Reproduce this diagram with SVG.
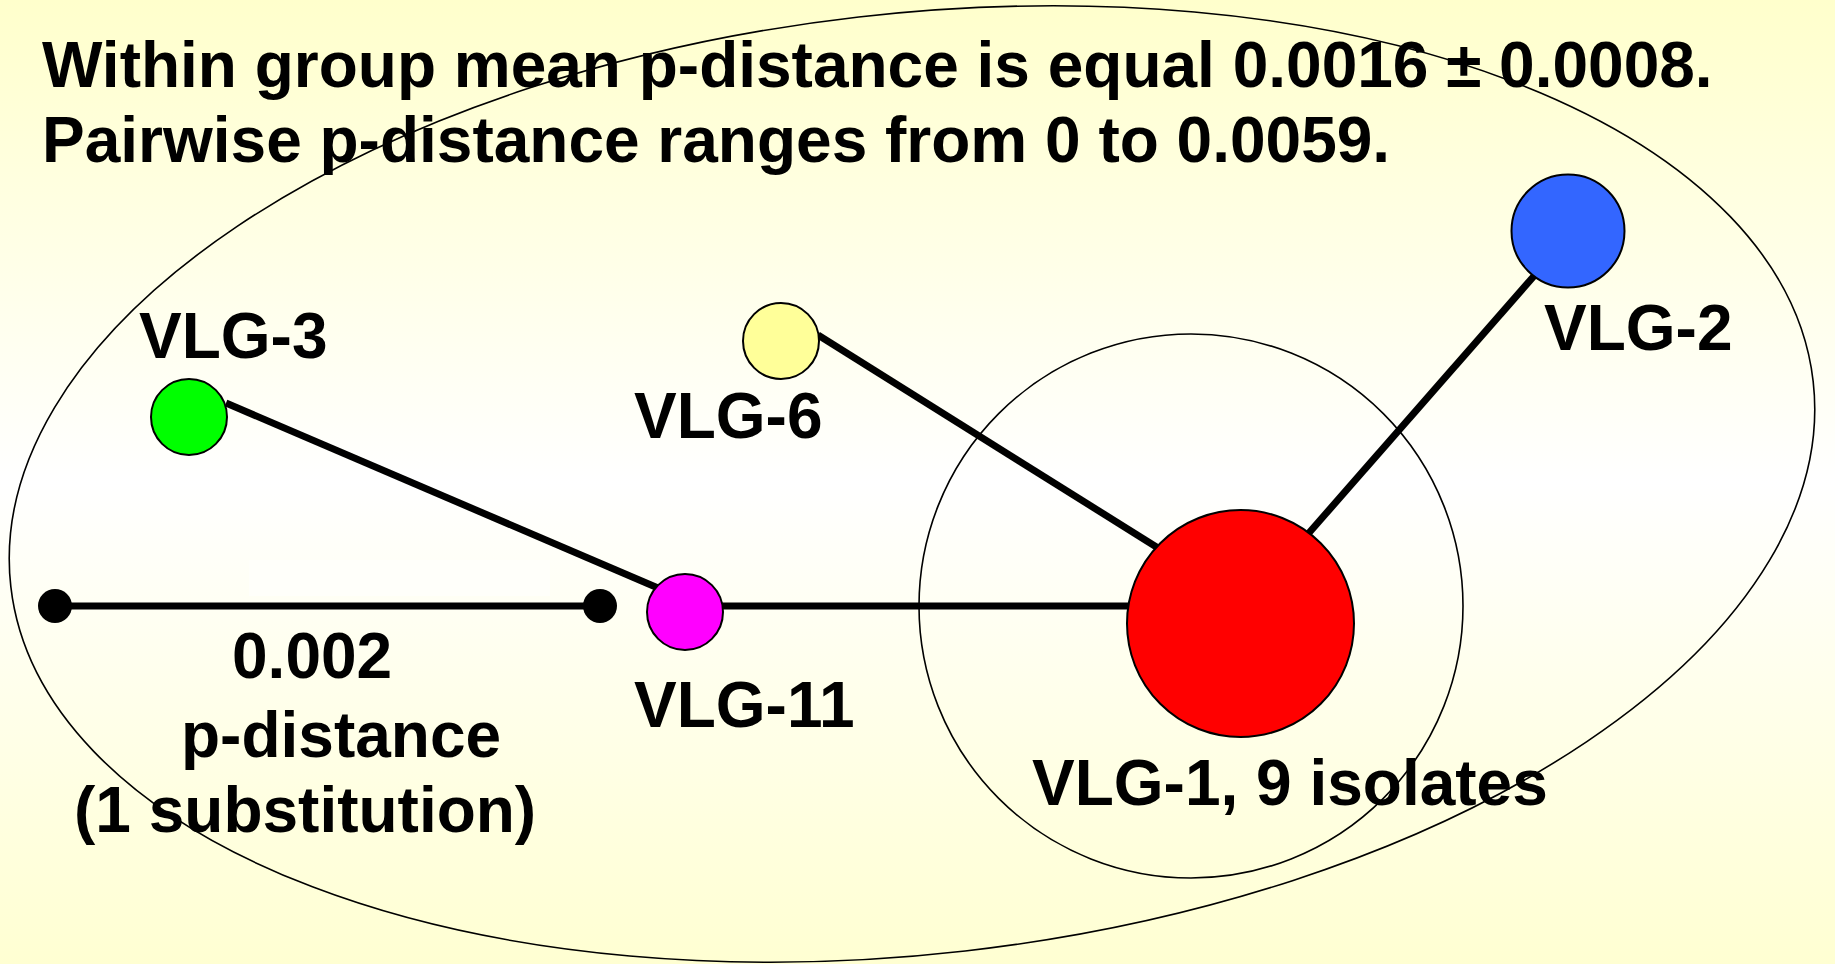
<svg xmlns="http://www.w3.org/2000/svg" width="1835" height="964" viewBox="0 0 1835 964">
<defs>
<linearGradient id="bg" x1="0" y1="0" x2="0" y2="1">
<stop offset="0" stop-color="#ffffcc"/>
<stop offset="0.5" stop-color="#ffffff"/>
<stop offset="1" stop-color="#ffffd2"/>
</linearGradient>
<style>
.t{font-family:"Liberation Sans",Arial,sans-serif;font-weight:bold;font-size:64px;fill:#000}
.ring{fill:none;stroke:#000;stroke-width:1.6}
.node{stroke:#000;stroke-width:2}
.edge{stroke:#000;stroke-width:7;fill:none}
</style>
</defs>
<rect x="0" y="0" width="1835" height="964" fill="url(#bg)"/>
<rect x="249" y="560" width="301" height="36" fill="#fffffa"/>
<g id="title">
<text class="t" x="42" y="87">Within group mean p-distance is equal 0.0016 ± 0.0008.</text>
<text class="t" x="42" y="162">Pairwise p-distance ranges from 0 to 0.0059.</text>
</g>
<g id="group-boundary">
<ellipse class="ring" cx="912" cy="484" rx="907" ry="470" transform="rotate(-6.5 912 484)"/>
</g>
<g id="vlg1-ring">
<circle class="ring" cx="1191" cy="606" r="272"/>
</g>
<g id="connectors">
<line class="edge" x1="226" y1="403" x2="658" y2="588"/>
<line class="edge" x1="818" y1="335" x2="1158" y2="548"/>
<line class="edge" x1="1534" y1="276" x2="1308" y2="534"/>
<line class="edge" x1="720" y1="606" x2="975" y2="606"/>
<line class="edge" x1="975" y1="606" x2="1130" y2="606"/>
</g>
<g id="scale-bar">
<line class="edge" x1="55" y1="606" x2="600" y2="606"/>
<circle cx="55" cy="606" r="17" fill="#000"/>
<circle cx="600" cy="606" r="17" fill="#000"/>
<text class="t" x="232" y="678">0.002</text>
<text class="t" x="181" y="757">p-distance</text>
<text class="t" x="74" y="832">(1 substitution)</text>
</g>
<g id="vlg-3">
<circle class="node" cx="189" cy="417" r="38" fill="#00ff00"/>
<text class="t" x="139" y="358">VLG-3</text>
</g>
<g id="vlg-6">
<circle class="node" cx="781" cy="341" r="38" fill="#ffff99"/>
<text class="t" x="634" y="438">VLG-6</text>
</g>
<g id="vlg-11">
<circle class="node" cx="685" cy="612" r="38" fill="#ff00ff"/>
<text class="t" x="634" y="727">VLG-11</text>
</g>
<g id="vlg-2">
<circle class="node" cx="1568" cy="231" r="56.5" fill="#3366ff"/>
<text class="t" x="1544" y="350">VLG-2</text>
</g>
<g id="vlg-1">
<circle class="node" cx="1240.5" cy="623.5" r="113.5" fill="#ff0000"/>
<text class="t" x="1032" y="805">VLG-1, 9 isolates</text>
</g>
</svg>
